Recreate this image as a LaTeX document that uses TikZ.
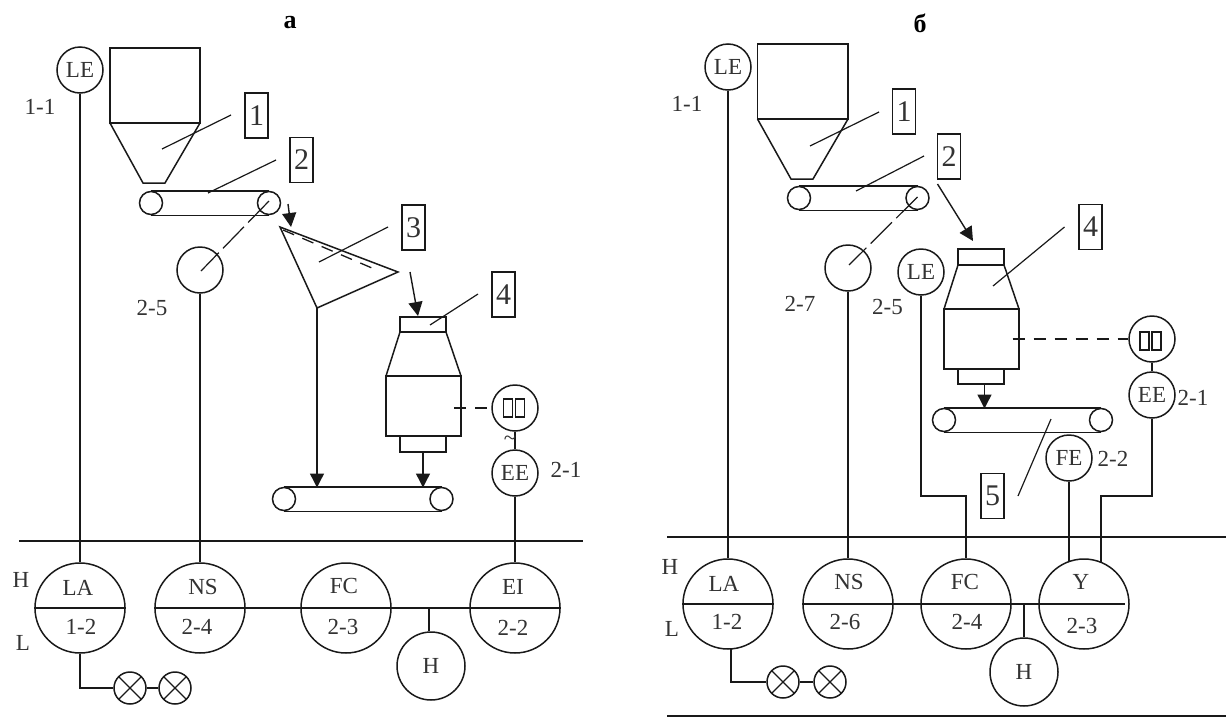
\documentclass[tikz,border=0pt]{standalone}
\usepackage{fontspec}
\setmainfont{Liberation Serif}
\usetikzlibrary{arrows.meta}
\definecolor{ink}{gray}{0.1}
\definecolor{lab}{gray}{0.2}
\tikzset{
  ln/.style={draw=ink,line width=1.5pt},
  smallc/.style={circle,ln,inner sep=0pt,minimum size=46pt,font=\fontsize{23}{23}\selectfont,text=lab},
  bigc/.style={circle,ln,inner sep=0pt,minimum size=90pt},
  hornc/.style={circle,ln,inner sep=0pt,minimum size=68pt,font=\fontsize{23}{23}\selectfont,text=lab},
  roller/.style={circle,ln,inner sep=0pt,minimum size=23pt},
  lamp/.style={circle,ln,inner sep=0pt,minimum size=32pt,
    path picture={\draw[ink,line width=1.2pt] (path picture bounding box.south west)--(path picture bounding box.north east)
      (path picture bounding box.north west)--(path picture bounding box.south east);}},
  tag/.style={text=lab,inner sep=0pt,font=\fontsize{23}{23}\selectfont},
  numbox/.style={ln,inner sep=0pt,minimum width=23pt,minimum height=45pt,text=lab,font=\fontsize{30}{30}\selectfont},
  titlelab/.style={inner sep=0pt,font=\fontsize{26}{26}\selectfont\bfseries},
  leader/.style={draw=ink,line width=1.2pt},
  dashln/.style={draw=ink,line width=1.3pt,dash pattern=on 12pt off 9pt},
  longdash/.style={draw=ink,line width=1.2pt,dash pattern=on 30pt off 6pt},
  flow/.style={draw=ink,line width=1.4pt,-{Triangle[length=14pt,width=14pt]}},
  bar/.style={draw=ink,line width=1.7pt}
}
\begin{document}
\begin{tikzpicture}[x=1pt,y=-1pt]
\useasboundingbox[fill=white] (0,0) rectangle (1226,718);
% ================= panel a =================
\node[titlelab] (ta) at (290,23) {а};
\draw[ln] (110,48) rectangle (200,123);
\draw[ln] (110,123) -- (143,183) -- (165,183) -- (200,123);
\node[smallc] (aLE) at (80,70) {LE};
\node[tag] (a11) at (40,107) {1-1};
\node[numbox] (an1) at (256.5,115.5) {1};
\coordinate (an1a) at (231,115); \coordinate (an1b) at (162,149);
\draw[leader] (an1a) -- (an1b);
\node[numbox] (an2) at (301.5,160) {2};
\coordinate (an2a) at (276,160); \coordinate (an2b) at (208,193);
\draw[leader] (an2a) -- (an2b);
\node[roller] (ar1) at (151,203) {};
\node[roller] (ar2) at (269,203) {};
\draw[ln] (ar1.north) -- (ar2.north) (ar1.south) -- (ar2.south);
\coordinate (af1) at (288,204); \coordinate (af2) at (291,227);
\draw[flow] (af1) -- (af2);
\coordinate (at1) at (280,227); \coordinate (at2) at (398,272); \coordinate (at3) at (317,308);
\draw[ln] (at1) -- (at2) -- (at3) -- cycle;
\coordinate (ad1) at (283,230); \coordinate (ad2) at (379,271);
\draw[dashln] (ad1) -- (ad2);
\node[numbox] (an3) at (413.5,227.5) {3};
\coordinate (an3a) at (388,227); \coordinate (an3b) at (319,262);
\draw[leader] (an3a) -- (an3b);
\coordinate (af3) at (410,272); \coordinate (af4) at (418,316);
\draw[flow] (af3) -- (af4);
\node[numbox] (an4) at (503.5,294.5) {4};
\coordinate (an4a) at (478,294); \coordinate (an4b) at (430,325);
\draw[leader] (an4a) -- (an4b);
\draw[ln] (400,317) rectangle (446,332);
\draw[ln] (400,332) -- (386,376) (446,332) -- (461,376);
\draw[ln] (386,376) rectangle (461,436);
\draw[ln] (400,436) rectangle (446,452);
\node[smallc] (aM) at (515,408) {};
\draw[ln,line width=1.2pt] (503.5,399) rectangle (512.5,417) (515.5,399) rectangle (524.5,417);
\coordinate (amb) at (454,408);
\draw[dashln] (amb) -- (aM.west);
\node[smallc] (aEE) at (515,473) {EE};
\draw[ln] (aM.south) -- (aEE.north);
\node[tag] (atil) at (510,441) {\textasciitilde};
\node[tag] (a21) at (566,470) {2-1};
\node[roller] (ar3) at (284,499) {};
\node[roller] (ar4) at (441.5,499) {};
\draw[ln] (ar3.north) -- (ar4.north) (ar3.south) -- (ar4.south);
\coordinate (abelt1) at (317,487.5); \coordinate (abelt2) at (423,487.5); \coordinate (amo) at (423,452);
\draw[flow] (at3) -- (abelt1);
\draw[flow] (amo) -- (abelt2);
\node[smallc] (aS) at (200,270) {};
\coordinate (aSc) at (201,271); \coordinate (ar2c) at (269,201);
\draw[longdash] (ar2c) -- (aSc);
\node[tag] (a25) at (152,308) {2-5};
\coordinate (aH1) at (19,541); \coordinate (aH2) at (583,541);
\draw[bar] (aH1) -- (aH2);
\node[bigc] (aLA) at (80,608) {};
\node[bigc] (aNS) at (200,608) {};
\node[bigc] (aFC) at (346,608) {};
\node[bigc] (aEI) at (515,608) {};
\foreach \n in {aLA,aNS,aFC,aEI} \draw[bar] (\n.west) -- (\n.east);
\draw[bar] (aNS.east) -- (aFC.west) (aFC.east) -- (aEI.west);
\node[tag] at (78,588) {LA}; \node[tag] at (81,627) {1-2};
\node[tag] at (203,587) {NS}; \node[tag] at (197,627) {2-4};
\node[tag] at (344,586) {FC}; \node[tag] at (343,627) {2-3};
\node[tag] at (513,587) {EI}; \node[tag] at (513,628) {2-2};
\node[tag] (aHH) at (21,580) {H};
\node[tag] (aLL) at (23,643) {L};
\draw[ln] (aLE.south) -- (aLA.north);
\draw[ln] (aS.south) -- (aNS.north);
\draw[ln] (aEE.south) -- (aEI.north);
\node[hornc] (aHn) at (431,666) {H};
\coordinate (aHt) at (429,608);
\draw[ln] (aHt) -- (aHt |- aHn.north);
\node[lamp] (al1) at (130,688) {};
\node[lamp] (al2) at (175,688) {};
\draw[ln] (aLA.south) -- (aLA.south |- al1.west) -- (al1.west);
\draw[ln] (al1.east) -- (al2.west);
% ================= panel b =================
\node[titlelab] (tb) at (920,23) {б};
\draw[ln] (757.5,44) rectangle (848,119);
\draw[ln] (757.5,119) -- (791,179) -- (813,179) -- (848,119);
\node[smallc] (bLE) at (728,67) {LE};
\node[tag] (b11) at (687,104) {1-1};
\node[numbox] (bn1) at (904,111.5) {1};
\coordinate (bn1a) at (879,112); \coordinate (bn1b) at (810,146);
\draw[leader] (bn1a) -- (bn1b);
\node[numbox] (bn2) at (949,156.5) {2};
\coordinate (bn2a) at (924,156); \coordinate (bn2b) at (856,191);
\draw[leader] (bn2a) -- (bn2b);
\node[roller] (br1) at (799,198) {};
\node[roller] (br2) at (917.5,198) {};
\draw[ln] (br1.north) -- (br2.north) (br1.south) -- (br2.south);
\coordinate (bf1) at (937.5,184); \coordinate (bf2) at (973,241);
\draw[flow] (bf1) -- (bf2);
\node[smallc] (bS) at (848,268) {};
\coordinate (bSc) at (849,265); \coordinate (br2c) at (917.5,197);
\draw[longdash] (br2c) -- (bSc);
\node[tag] (b27) at (800,304) {2-7};
\node[smallc] (bLE2) at (921,272) {LE};
\node[tag] (b25) at (887.5,307) {2-5};
\node[numbox] (bn4) at (1090.5,227) {4};
\coordinate (bn4a) at (1064.5,227); \coordinate (bn4b) at (993,286);
\draw[leader] (bn4a) -- (bn4b);
\draw[ln] (958,249) rectangle (1004,265);
\draw[ln] (958,265) -- (944,309) (1004,265) -- (1019,309);
\draw[ln] (944,309) rectangle (1019,369);
\draw[ln] (958,369) rectangle (1004,384);
\node[smallc] (bM) at (1152,339) {};
\draw[ln,line width=1.2pt] (1140,332) rectangle (1149,350) (1152,332) rectangle (1161,350);
\coordinate (bmb) at (1012.5,339);
\draw[dashln] (bmb) -- (bM.west);
\node[smallc] (bEE) at (1152,395) {EE};
\draw[ln] (bM.south) -- (bEE.north);
\node[tag] (b21) at (1193,398) {2-1};
\node[roller] (br3) at (944,420) {};
\node[roller] (br4) at (1101,420) {};
\draw[ln] (br3.north) -- (br4.north) (br3.south) -- (br4.south);
\coordinate (bmo) at (984.5,384); \coordinate (bbelt) at (984.5,408.5);
\draw[flow] (bmo) -- (bbelt);
\node[numbox] (bn5) at (992.5,496) {5};
\coordinate (bn5a) at (1051,419); \coordinate (bn5b) at (1018,496);
\draw[leader] (bn5a) -- (bn5b);
\node[smallc] (bFE) at (1069,458) {FE};
\node[tag] (b22) at (1113,459) {2-2};
\coordinate (bH1) at (667,537); \coordinate (bH2) at (1226,537);
\draw[bar] (bH1) -- (bH2);
\coordinate (bB1) at (667,716); \coordinate (bB2) at (1226,716);
\draw[bar] (bB1) -- (bB2);
\node[bigc] (bLA) at (728,604) {};
\node[bigc] (bNS) at (848,604) {};
\node[bigc] (bFC) at (966,604) {};
\node[bigc] (bY) at (1084,604) {};
\foreach \n in {bLA,bNS,bFC} \draw[bar] (\n.west) -- (\n.east);
\coordinate (bYe) at (1125,604);
\draw[bar] (bNS.east) -- (bFC.west) (bFC.east) -- (bY.west) -- (bYe);
\node[tag] at (724,584) {LA}; \node[tag] at (727,622) {1-2};
\node[tag] at (849,582) {NS}; \node[tag] at (845,622) {2-6};
\node[tag] at (965,582) {FC}; \node[tag] at (967,622) {2-4};
\node[tag] at (1081,582) {Y}; \node[tag] at (1082,626) {2-3};
\node[tag] (bHH) at (670,567) {H};
\node[tag] (bLL) at (672,629) {L};
\draw[ln] (bLE.south) -- (bLA.north);
\draw[ln] (bS.south) -- (bNS.north);
\coordinate (bk1) at (921,496); \coordinate (bk2) at (966,496);
\draw[ln] (bLE2.south) -- (bk1) -- (bk2) -- (bFC.north);
\coordinate (bk3) at (1152,496); \coordinate (bk4) at (1101,496); \coordinate (bk5) at (1101,563);
\draw[ln] (bEE.south) -- (bk3) -- (bk4) -- (bk5);
\coordinate (bk6) at (1069,562);
\draw[ln] (bFE.south) -- (bk6);
\node[hornc] (bHn) at (1024,672) {H};
\coordinate (bHt) at (1024,604);
\draw[ln] (bHt) -- (bHn.north);
\node[lamp] (bl1) at (783,682) {};
\node[lamp] (bl2) at (830,682) {};
\coordinate (blt) at (731,649);
\draw[ln] (blt) -- (blt |- bl1.west) -- (bl1.west);
\draw[ln] (bl1.east) -- (bl2.west);
\end{tikzpicture}
\end{document}
